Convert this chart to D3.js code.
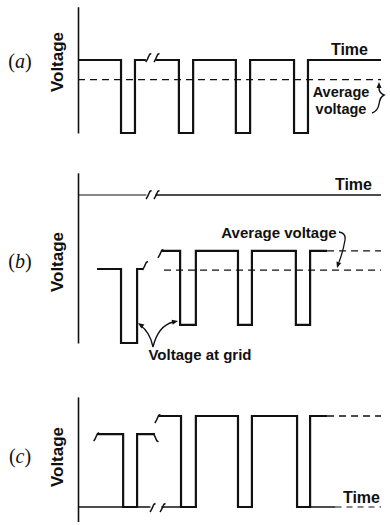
<!DOCTYPE html>
<html><head><meta charset="utf-8">
<script src="https://cdn.jsdelivr.net/npm/d3@7"></script>
<style>body{margin:0;background:#fff}svg{display:block}</style>
</head><body>
<svg id="c" width="390" height="525"></svg>
<script>
// ---- data (time units 0..100, voltage units per panel) ----
const panelLabels = ["a", "b", "c"];
const axisLabel = "Voltage";
const timeLabel = "Time";
const avgLabel = "Average voltage";
const gridLabel = "Voltage at grid";

// panel (a)
const aEdges1 = [14.2, 18.8];
const aEdges2 = [33.3, 38.0, 52.1, 56.8, 71.3, 75.9];
const aHigh = 0, aLow = -100, aAvg = -27;
const aAxis = [-100, 73];

// panel (b)
const bEdges1 = [14.2, 19.5];
const bEdges2 = [33.7, 38.9, 52.8, 57.4, 71.9, 76.6];
const bHigh1 = -50, bLow1 = -100, bHigh2 = -37.8, bLow2 = -87.8, bAvg = -50.7;
const bAxis = [-100, 15];

// panel (c)
const cEdges1 = [14.9, 19.5];
const cEdges2 = [34.0, 38.9, 52.8, 57.4, 72.3, 76.6];
const cHigh1 = 80, cHigh2 = 100, cLow = 0;
const cAxis = [-16, 121];

// segment extents in time
const seg1Span = {a: [0, 22.4], b: [6.3, 21.5], c: [6.3, 25.4]};
const seg2Span = {a: [25.6, 100], b: [27.4, 82.2], c: [26.4, 82.2]};

const svg = d3.select("#c");
const x = d3.scaleLinear().domain([0, 100]).range([78, 381]);
const yA = d3.scaleLinear().domain([-100, 0]).range([133, 60]);
const yB = d3.scaleLinear().domain([-100, 0]).range([343, 195]);
const yC = d3.scaleLinear().domain([0, 100]).range([507, 416]);

const line = d3.line().x(d => x(d[0])).y(d => d[1]);
const FONT = "'Liberation Sans', Arial, sans-serif";

function steps(t0, t1, hi, lo, edges, y) {
  const pts = [[t0, y(hi)]];
  let level = hi;
  edges.forEach(e => {
    const nl = level === hi ? lo : hi;
    pts.push([e, y(level)], [e, y(nl)]);
    level = nl;
  });
  pts.push([t1, y(level)]);
  return pts;
}
function path(g, pts, w, dash) {
  const p = g.append("path").attr("d", line(pts)).attr("fill", "none")
    .attr("stroke", "#111").attr("stroke-width", w).attr("stroke-linejoin", "miter");
  if (dash) p.attr("stroke-dasharray", dash);
  return p;
}
function tick(g, t, yy, dir) {
  const px = x(t);
  const d = dir || 1;
  g.append("path")
    .attr("d", `M${px - 2.5},${yy + 4 * d} Q${px - 0.5},${yy + 1 * d} ${px + 0.5},${yy - 2 * d} Q${px + 1},${yy - 4 * d} ${px + 3},${yy - 4.5 * d}`)
    .attr("fill", "none").attr("stroke", "#111").attr("stroke-width", 1.5);
}
function axis(y, dom) {
  const s = y.copy().domain(dom).range(dom.map(y));
  svg.append("g").attr("transform", `translate(${x(0)},0)`)
    .call(d3.axisLeft(s).ticks(0).tickSize(0).tickSizeOuter(0))
    .call(g => g.select(".domain").attr("stroke", "#111").attr("stroke-width", 1.6));
}
function label(letter, cy) {
  const t = svg.append("text").attr("x", 20).attr("y", cy + 6)
    .attr("text-anchor", "middle").attr("font-family", "'Liberation Serif', serif")
    .attr("font-size", 20).attr("fill", "#111");
  t.append("tspan").text("(");
  t.append("tspan").attr("font-style", "italic").text(letter);
  t.append("tspan").text(")");
  svg.append("text").attr("transform", `translate(63,${cy}) rotate(-90)`)
    .attr("text-anchor", "middle").attr("font-family", FONT).attr("font-weight", "bold")
    .attr("font-size", 17).attr("fill", "#111").text(axisLabel);
}
function text(str, tx, ty, anchor, size) {
  svg.append("text").attr("x", tx).attr("y", ty).attr("text-anchor", anchor || "start")
    .attr("font-family", FONT).attr("font-weight", "bold").attr("font-size", size || 15)
    .attr("fill", "#111").text(str);
}
function arrowHead(px, py, angleDeg) {
  svg.append("path").attr("d", "M0,0 L-6,-2.5 L-6,2.5 Z")
    .attr("transform", `translate(${px},${py}) rotate(${angleDeg})`).attr("fill", "#111");
}

const g = svg.append("g");

// ---------- panel (a) ----------
axis(yA, aAxis);
path(g, steps(seg1Span.a[0], seg1Span.a[1], aHigh, aLow, aEdges1, yA), 2.2);
path(g, steps(seg2Span.a[0], seg2Span.a[1], aHigh, aLow, aEdges2, yA), 2.2);
tick(g, 23.2, yA(aHigh) - 2);
tick(g, 25.9, yA(aHigh) - 2);
path(g, [[0, yA(aAvg)], [100, yA(aAvg)]], 1.3, "7,5");
label(panelLabels[0], 62);
text(timeLabel, 368, 55, "end", 16);
text("Average", 341, 97, "middle", 14.5);
text("voltage", 341, 114, "middle", 14.5);
svg.append("path").attr("d", "M372,113 Q378,111 379,104 Q380,97 384,95 Q379,93 379,88")
  .attr("fill", "none").attr("stroke", "#111").attr("stroke-width", 1.4);
arrowHead(379, 82, -90);

// ---------- panel (b) ----------
axis(yB, bAxis);
path(g, [[0, yB(0)], [22.6, yB(0)]], 1.1);
path(g, [[25.5, yB(0)], [100, yB(0)]], 1.3);
tick(g, 23.3, yB(0));
tick(g, 25.9, yB(0));
path(g, steps(seg1Span.b[0], seg1Span.b[1], bHigh1, bLow1, bEdges1, yB), 2.2);
path(g, steps(seg2Span.b[0], seg2Span.b[1], bHigh2, bLow2, bEdges2, yB), 2.2);
path(g, [[seg2Span.b[1], yB(bHigh2)], [100, yB(bHigh2)]], 1.3, "7,5");
path(g, [[28.4, yB(bAvg)], [100, yB(bAvg)]], 1.3, "7,5");
tick(g, seg1Span.b[1] + 0.6, yB(bHigh1) - 3);
tick(g, seg2Span.b[0] - 0.2, yB(bHigh2) + 3);
label(panelLabels[1], 262);
text(timeLabel, 372, 190, "end", 16);
text(avgLabel, 279, 238, "middle");
svg.append("path").attr("d", "M339,232 Q346,233 345,240 Q343,252 339,262")
  .attr("fill", "none").attr("stroke", "#111").attr("stroke-width", 1.3);
arrowHead(337, 268, 108);
svg.append("path").attr("d", "M153,347 Q150,332 140,325")
  .attr("fill", "none").attr("stroke", "#111").attr("stroke-width", 1.3);
arrowHead(138, 323, 215);
svg.append("path").attr("d", "M153,347 Q158,326 173,322")
  .attr("fill", "none").attr("stroke", "#111").attr("stroke-width", 1.3);
arrowHead(178, 321, -12);
text(gridLabel, 200, 360, "middle");

// ---------- panel (c) ----------
axis(yC, cAxis);
path(g, steps(seg1Span.c[0], seg1Span.c[1], cHigh1, cLow, cEdges1, yC), 2.2);
path(g, steps(seg2Span.c[0], seg2Span.c[1], cHigh2, cLow, cEdges2, yC), 2.2);
path(g, [[seg2Span.c[1], yC(cHigh2)], [100, yC(cHigh2)]], 1.3, "7,5");
path(g, [[0, yC(0)], [23.9, yC(0)]], 1.5);
path(g, [[27.5, yC(0)], [seg2Span.c[0] + 8, yC(0)]], 1.5);
path(g, [[76.6, yC(0)], [85, yC(0)]], 1.5);
path(g, [[85, yC(0)], [100, yC(0)]], 1.2, "6,5");
tick(g, 24.6, yC(0) + 1);
tick(g, 27.9, yC(0) + 1);
tick(g, seg1Span.c[0] - 0.3, yC(cHigh1) + 3);
tick(g, seg1Span.c[1] + 0.2, yC(cHigh1) + 3, -1);
tick(g, seg2Span.c[0] - 0.2, yC(cHigh2) + 3);
label(panelLabels[2], 457);
text(timeLabel, 380, 503, "end", 16);
</script>
</body></html>
